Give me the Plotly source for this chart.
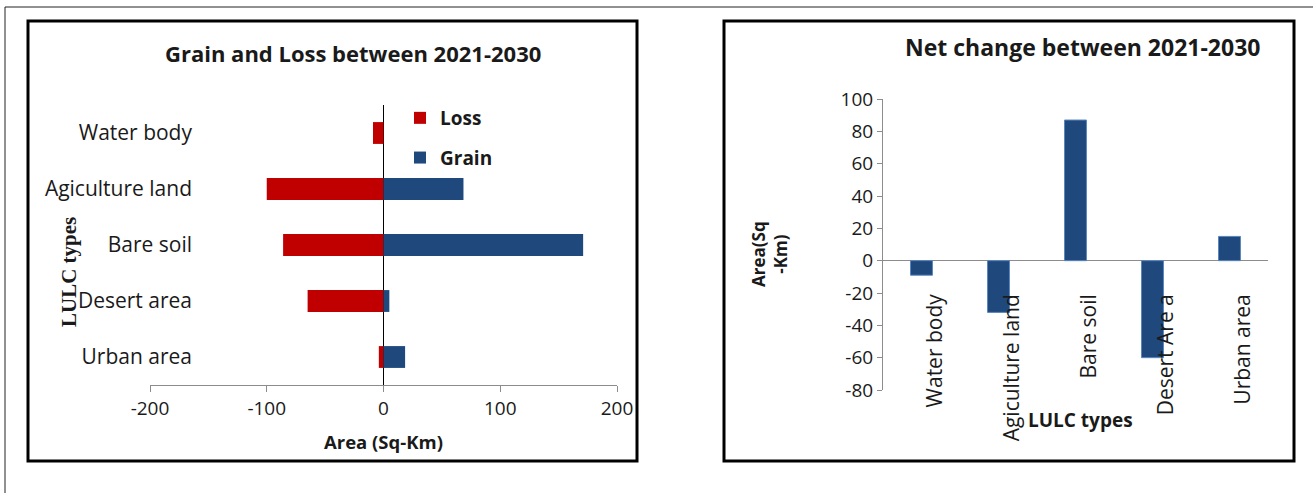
import plotly.graph_objects as go

W, H = 1313, 493


def px_x(x):
    return x / W


def px_y(y):
    return 1 - y / H


# ---------------- data ----------------
categories = ["Urban area", "Desert area", "Bare soil", "Agiculture land", "Water body"]
loss = [-4, -65, -86, -100, -9]
grain = [18.5, 5, 171, 68.5, 0]

net_categories = ["Water body", "Agiculture land", "Bare soil", "Desert Are a", "Urban area"]
net_change = [-9, -32, 87, -60, 15]

x_tick_vals = [-200, -100, 0, 100, 200]
x_tick_text = ["-200", "-100", "0", "100", "200"]
y2_tick_vals = [-80, -60, -40, -20, 0, 20, 40, 60, 80, 100]
y2_tick_text = ["-80", "-60", "-40", "-20", "0", "20", "40", "60", "80", "100"]

RED = "#C00000"
BLUE = "#1F497D"
GRAY = "#8c8c8c"
TXT = "#1a1a1a"
FONT = "Open Sans"

fig = go.Figure()

fig.add_trace(go.Bar(
    y=categories, x=loss, orientation="h", name="Loss",
    marker=dict(color=RED, line=dict(width=0)), width=0.39,
    xaxis="x", yaxis="y", legendgroup="loss",
))
fig.add_trace(go.Bar(
    y=categories, x=grain, orientation="h", name="Grain",
    marker=dict(color=BLUE, line=dict(width=0)), width=0.39,
    xaxis="x", yaxis="y", legendgroup="grain",
))
fig.add_trace(go.Bar(
    x=net_categories, y=net_change, name="Net change",
    marker=dict(color=BLUE, line=dict(color="#5b87bf", width=1)), width=0.285,
    xaxis="x2", yaxis="y2", showlegend=False,
))

fig.update_layout(
    width=W, height=H,
    margin=dict(l=0, r=0, t=0, b=0, pad=0, autoexpand=False),
    paper_bgcolor="white", plot_bgcolor="rgba(0,0,0,0)",
    barmode="relative",
    font=dict(family=FONT, color=TXT),
    showlegend=True,
    legend=dict(
        x=px_x(400), y=px_y(99), xanchor="left", yanchor="top",
        font=dict(family=FONT, size=19, color=TXT, weight="bold"),
        bgcolor="rgba(0,0,0,0)", borderwidth=0,
        traceorder="grouped", tracegroupgap=12, itemwidth=30,
    ),
    xaxis=dict(
        domain=[px_x(150), px_x(617)], anchor="y",
        range=[-200, 200], tickvals=x_tick_vals, ticktext=x_tick_text,
        showline=True, linecolor=GRAY, linewidth=1,
        ticks="outside", ticklen=6, tickcolor=GRAY,
        zeroline=True, zerolinecolor="black", zerolinewidth=1,
        showgrid=False, tickfont=dict(size=19, color=TXT),
        automargin=False,
    ),
    yaxis=dict(
        domain=[px_y(385), px_y(105)], anchor="free", position=px_x(192),
        type="category", categoryorder="array", categoryarray=categories,
        range=[-0.5, 4.5], showline=False, ticks="", showgrid=False, zeroline=False,
        tickfont=dict(size=21, color=TXT), automargin=False,
    ),
    xaxis2=dict(
        domain=[px_x(883), px_x(1268)], anchor="free", position=px_y(289),
        type="category", categoryorder="array", categoryarray=net_categories,
        showline=False, ticks="", showgrid=False, zeroline=False,
        tickangle=-90, tickfont=dict(size=21, color=TXT), ticklabelshift=14,
        automargin=False,
    ),
    yaxis2=dict(
        domain=[px_y(390), px_y(99)], anchor="x2",
        range=[-80, 100], tickvals=y2_tick_vals, ticktext=y2_tick_text,
        showline=True, linecolor=GRAY, linewidth=1,
        ticks="outside", ticklen=5, tickcolor=GRAY,
        zeroline=True, zerolinecolor=GRAY, zerolinewidth=1,
        showgrid=False, tickfont=dict(size=19, color=TXT),
        automargin=False,
    ),
)

annotations = [
    dict(text="<b>Grain and Loss between 2021-2030</b>", x=px_x(353), y=px_y(53),
         font=dict(size=22, family=FONT, color=TXT)),
    dict(text="<b>Area (Sq-Km)</b>", x=px_x(383), y=px_y(441),
         font=dict(size=18.5, family=FONT, color=TXT)),
    dict(text="<b>LULC types</b>", x=px_x(69), y=px_y(272), textangle=-90,
         font=dict(size=21, family="Liberation Serif", color=TXT)),
    dict(text="<b>Net change between 2021-2030</b>", x=px_x(1082), y=px_y(47),
         font=dict(size=23, family=FONT, color=TXT)),
    dict(text="<b>Area(Sq<br>-Km)</b>", x=px_x(770), y=px_y(254), textangle=-90,
         font=dict(size=17, family=FONT, color=TXT), align="center"),
    dict(text="<b>LULC types</b>", x=px_x(1080), y=px_y(420),
         font=dict(size=19, family=FONT, color=TXT)),
]
for a in annotations:
    a.update(xref="paper", yref="paper", showarrow=False, xanchor="center", yanchor="middle")
fig.update_layout(annotations=annotations)

shapes = [
    # outer frame
    dict(type="rect", x0=px_x(5), x1=px_x(1330), y0=px_y(7), y1=px_y(510),
         line=dict(color="#222222", width=1)),
    # left chart box
    dict(type="rect", x0=px_x(28), x1=px_x(637), y0=px_y(21), y1=px_y(461),
         line=dict(color="black", width=3)),
    # right chart box
    dict(type="rect", x0=px_x(724), x1=px_x(1294), y0=px_y(21), y1=px_y(461),
         line=dict(color="black", width=3)),
]
for s in shapes:
    s.update(xref="paper", yref="paper", layer="above")
fig.update_layout(shapes=shapes)

fig.write_html("out.html")
